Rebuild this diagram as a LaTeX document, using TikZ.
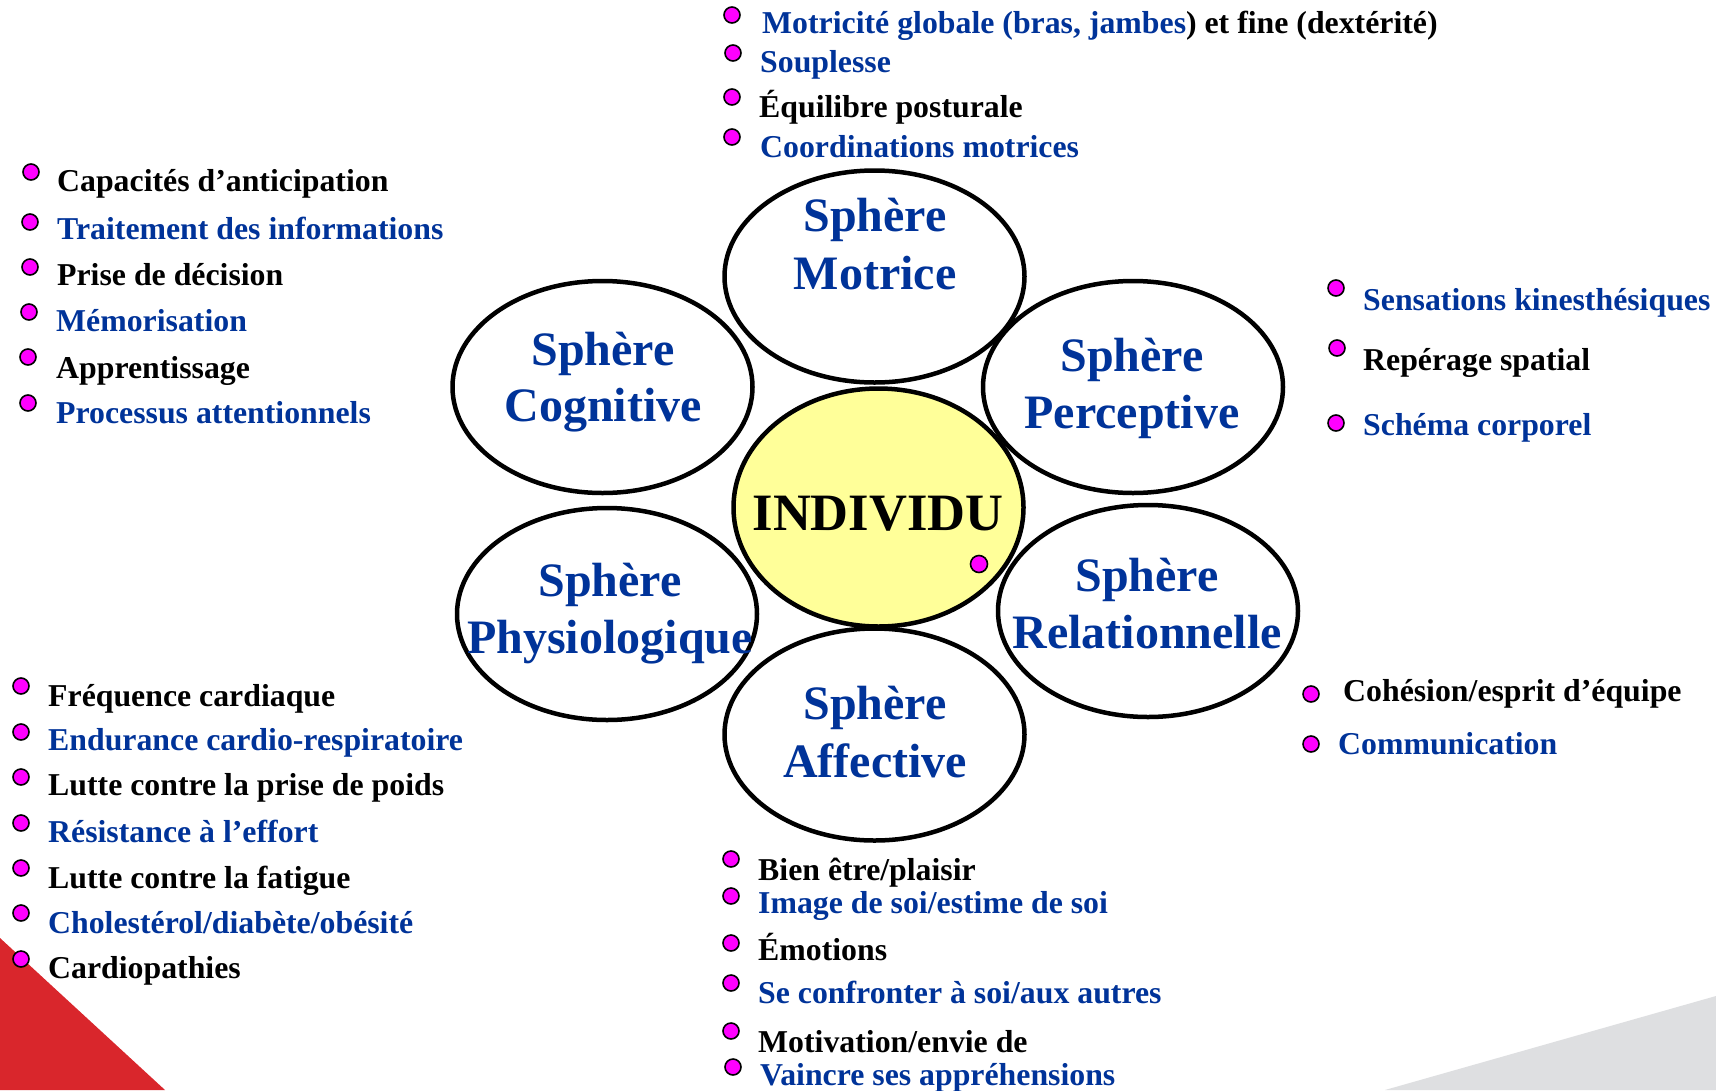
\documentclass[tikz,border=0pt]{standalone}
\usepackage{fontspec}
\setmainfont{Liberation Serif}
\usetikzlibrary{shapes.geometric}
\definecolor{sblue}{HTML}{003399}
\definecolor{bmag}{HTML}{FF00FF}
\definecolor{iyellow}{HTML}{FFFF99}
\definecolor{cred}{HTML}{D9262C}
\definecolor{cgrey}{HTML}{DEDFE1}
\begin{document}
\begin{tikzpicture}[x=1pt,y=-1pt,
 sphere/.style={ellipse,draw=black,line width=4.5pt,inner sep=0pt,minimum width=300pt,minimum height=212pt},
 stitle/.style={anchor=base,inner sep=0pt,text=sblue,font=\fontsize{48}{56}\selectfont\bfseries},
 item/.style={anchor=base west,inner sep=0pt,font=\fontsize{31.8}{38}\selectfont\bfseries},
 bitem/.style={item,text=sblue},
 kitem/.style={item,text=black},
 dot/.style={circle,draw=black,fill=bmag,line width=1.6pt,minimum size=16pt,inner sep=0pt}]
\useasboundingbox (0,0) rectangle (1716,1090);
\fill[white] (0,0) rectangle (1716,1090);
% decorative corners
\fill[cred] (0,938) -- (165,1090) -- (0,1090) -- cycle;
\fill[cgrey] (1385,1090) -- (1716,996) -- (1716,1090) -- cycle;

% outer spheres
\node[sphere] (mot) at (874.5,276.5) {};
\node[sphere] (cog) at (602.5,387) {};
\node[sphere] (per) at (1133,387) {};
\node[sphere] (phy) at (607,614) {};
\node[sphere] (rel) at (1148,611) {};
\node[sphere] (aff) at (874.5,734.5) {};
% centre
\node[ellipse,draw=black,fill=iyellow,line width=4.5pt,inner sep=0pt,minimum width=290pt,minimum height=238pt] (ind) at (878.5,507.5) {};
\node[anchor=base,inner sep=0pt,font=\fontsize{52.5}{60}\selectfont\bfseries] (indt) at (878,530) {INDIVIDU};
\node[dot,minimum size=17pt] (inddot) at (979,564) {};

% sphere titles
\node[stitle] (mota) at (875,231) {Sphère};
\node[stitle] (motb) at (875,289) {Motrice};
\node[stitle] (coga) at (603,365) {Sphère};
\node[stitle] (cogb) at (603,421) {Cognitive};
\node[stitle] (pera) at (1132,371) {Sphère};
\node[stitle] (perb) at (1132,428) {Perceptive};
\node[stitle] (phya) at (610,596) {Sphère};
\node[stitle] (phyb) at (610,653) {Physiologique};
\node[stitle] (rela) at (1147,591) {Sphère};
\node[stitle] (relb) at (1147,648) {Relationnelle};
\node[stitle] (affa) at (875,719) {Sphère};
\node[stitle] (affb) at (875,777) {Affective};

% Motrice items
\node[dot] (md1) at (732,15) {};
\node[bitem] (mt1) at (762,33) {Motricité globale (bras, jambes\textcolor{black}{) et fine (dextérité)}};
\node[dot] (md2) at (733,53) {};
\node[bitem] (mt2) at (760,72) {Souplesse};
\node[dot] (md3) at (732,97) {};
\node[kitem] (mt3) at (759,117) {Équilibre posturale};
\node[dot] (md4) at (732,137) {};
\node[bitem] (mt4) at (760,157) {Coordinations motrices};

% Cognitive items
\node[dot] (cd1) at (31,172) {};
\node[kitem] (ct1) at (57,191) {Capacités d’anticipation};
\node[dot] (cd2) at (30,222) {};
\node[bitem] (ct2) at (57,239) {Traitement des informations};
\node[dot] (cd3) at (30,267) {};
\node[kitem] (ct3) at (57,285) {Prise de décision};
\node[dot] (cd4) at (29,312) {};
\node[bitem] (ct4) at (56,331) {Mémorisation};
\node[dot] (cd5) at (28,357) {};
\node[kitem] (ct5) at (56,378) {Apprentissage};
\node[dot] (cd6) at (28,403) {};
\node[bitem] (ct6) at (56,423) {Processus attentionnels};

% Perceptive items
\node[dot] (pd1) at (1336,288) {};
\node[bitem] (pt1) at (1363,310) {Sensations kinesthésiques};
\node[dot] (pd2) at (1337,348) {};
\node[kitem] (pt2) at (1363,370) {Repérage spatial};
\node[dot] (pd3) at (1336,423) {};
\node[bitem] (pt3) at (1363,435) {Schéma corporel};

% Relationnelle items
\node[dot] (rd1) at (1311,694) {};
\node[kitem] (rt1) at (1343,701) {Cohésion/esprit d’équipe};
\node[dot] (rd2) at (1311,744) {};
\node[bitem] (rt2) at (1338,754) {Communication};

% Physiologique items
\node[dot] (yd1) at (21,686) {};
\node[kitem] (yt1) at (48,706) {Fréquence cardiaque};
\node[dot] (yd2) at (21,732) {};
\node[bitem] (yt2) at (48,750) {Endurance cardio-respiratoire};
\node[dot] (yd3) at (21,777) {};
\node[kitem] (yt3) at (48,795) {Lutte contre la prise de poids};
\node[dot] (yd4) at (21,823) {};
\node[bitem] (yt4) at (48,842) {Résistance à l’effort};
\node[dot] (yd5) at (21,868) {};
\node[kitem] (yt5) at (48,888) {Lutte contre la fatigue};
\node[dot] (yd6) at (21,913) {};
\node[bitem] (yt6) at (48,933) {Cholestérol/diabète/obésité};
\node[dot] (yd7) at (21,959) {};
\node[kitem] (yt7) at (48,978) {Cardiopathies};

% Affective items
\node[dot] (ad1) at (731,859) {};
\node[kitem] (at1) at (758,880) {Bien être/plaisir};
\node[dot] (ad2) at (731,896) {};
\node[bitem] (at2) at (758,913) {Image de soi/estime de soi};
\node[dot] (ad3) at (731,943) {};
\node[kitem] (at3) at (758,960) {Émotions};
\node[dot] (ad4) at (731,983) {};
\node[bitem] (at4) at (758,1003) {Se confronter à soi/aux autres};
\node[dot] (ad5) at (731,1031) {};
\node[kitem] (at5) at (758,1052) {Motivation/envie de};
\node[dot] (ad6) at (733,1067) {};
\node[bitem] (at6) at (760,1085) {Vaincre ses appréhensions};
\end{tikzpicture}
\end{document}
